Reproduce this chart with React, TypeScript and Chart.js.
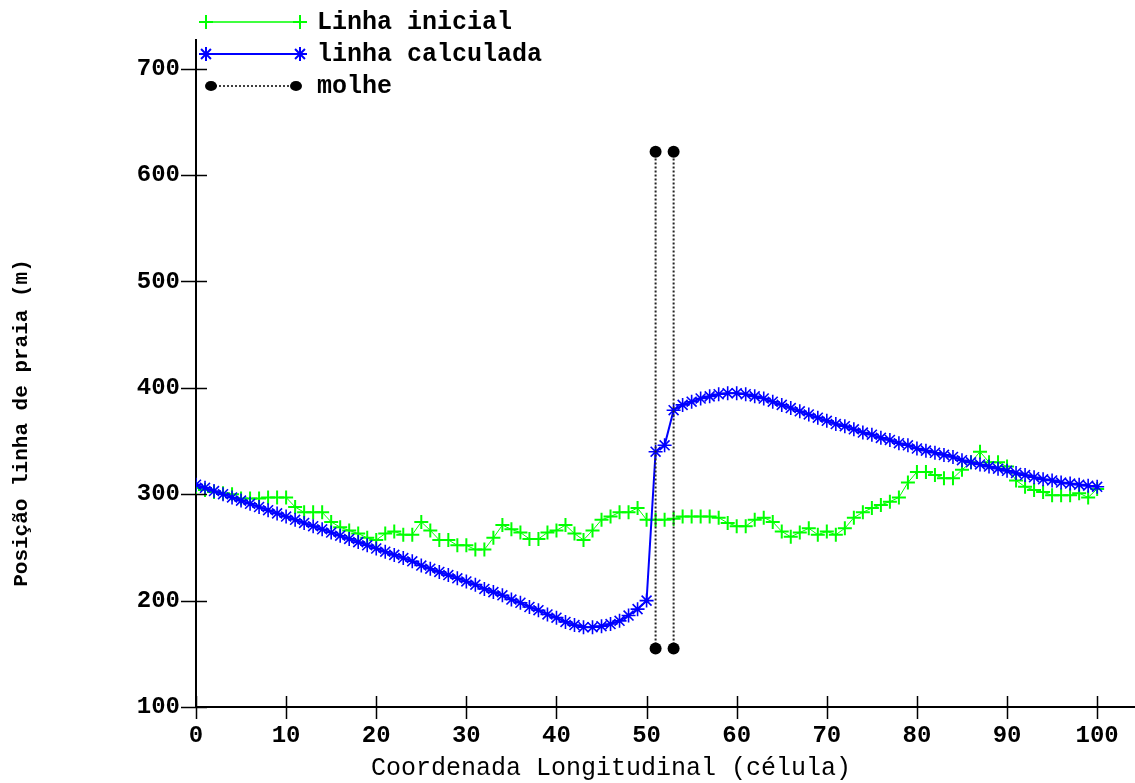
import React, { useEffect, useRef } from "react";
import { Chart, registerables } from "chart.js";

Chart.register(...registerables);

// cell index = array position (0..100)
const initialLine = [
  306, 304, 302, 301, 300, 296, 296, 296, 297, 297,
  297, 288, 283, 283, 283, 274, 269, 266, 263, 259,
  257, 263, 265, 262, 262, 274, 266, 257, 257, 252,
  252, 248, 248, 259, 271, 267, 264, 258, 258, 264,
  266, 271, 263, 257, 266, 276, 279, 283, 283, 287,
  276, 276, 276, 277, 279, 279, 279, 279, 278, 273,
  270, 270, 276, 278, 274, 265, 260, 264, 268, 262,
  265, 262, 268, 278, 283, 287, 290, 293, 297, 311,
  321, 321, 318, 315, 315, 323, 330, 340, 330, 330,
  326, 313, 307, 304, 302, 299, 299, 299, 301, 297,
  305,
];

const calculatedLine = [
  309, 306, 303, 300, 297, 294, 291, 288, 285, 282,
  279, 276, 273, 270, 267, 264, 261, 258, 255, 252,
  249, 246, 243, 240, 237, 233, 230, 227, 224, 221,
  218, 215, 211, 208, 205, 201, 198, 194, 191, 187,
  184, 180, 177, 175, 175, 176, 178, 181, 186, 192,
  200, 340, 346, 379, 384, 387, 390, 392, 394, 395,
  395, 394, 392, 390, 387, 384, 381, 378, 375, 372,
  369, 366, 364, 361, 358, 356, 353, 351, 348, 346,
  343, 341, 339, 337, 335, 332, 330, 328, 326, 324,
  322, 320, 318, 316, 314, 313, 311, 310, 309, 308,
  307,
];

const molheX = [51, 51, 52, 53, 53];
const molheY: (number | null)[] = [155, 622, null, 155, 622];

const xTickValues = [0, 10, 20, 30, 40, 50, 60, 70, 80, 90, 100];
const yTickValues = [100, 200, 300, 400, 500, 600, 700];

const labels = ["Linha inicial", "linha calculada", "molhe"];
const xTitle = "Coordenada Longitudinal (célula)";
const yTitle = "Posição linha de praia (m)";

const GREEN = "#00ff00";
const BLUE = "#0000ff";
const BLACK = "#000000";
const MONO = "'Liberation Mono', 'DejaVu Sans Mono', monospace";

function drawMarker(ctx: CanvasRenderingContext2D, kind: string, x: number, y: number, r: number, color: string) {
  ctx.save();
  ctx.strokeStyle = color;
  ctx.fillStyle = color;
  ctx.lineWidth = 2;
  ctx.beginPath();
  if (kind === "cross") {
    ctx.moveTo(x - r, y); ctx.lineTo(x + r, y);
    ctx.moveTo(x, y - r); ctx.lineTo(x, y + r);
    ctx.stroke();
  } else if (kind === "star") {
    ctx.moveTo(x - r, y); ctx.lineTo(x + r, y);
    ctx.moveTo(x, y - r); ctx.lineTo(x, y + r);
    const d = r * 0.707;
    ctx.moveTo(x - d, y - d); ctx.lineTo(x + d, y + d);
    ctx.moveTo(x - d, y + d); ctx.lineTo(x + d, y - d);
    ctx.stroke();
  } else {
    ctx.ellipse(x, y, r, r * 0.85, 0, 0, Math.PI * 2);
    ctx.fill();
  }
  ctx.restore();
}

const decorPlugin = {
  id: "decor",
  afterDraw(chart: any) {
    const ctx: CanvasRenderingContext2D = chart.ctx;
    const xs = chart.scales.x;
    const ys = chart.scales.y;
    const x0 = xs.getPixelForValue(0);
    const y0 = ys.getPixelForValue(100);
    ctx.save();
    // extend the x axis line to the right edge
    ctx.strokeStyle = BLACK;
    ctx.lineWidth = 2;
    ctx.beginPath();
    ctx.moveTo(chart.chartArea.right - 1, y0);
    ctx.lineTo(chart.width, y0);
    ctx.stroke();

    ctx.lineWidth = 1.5;
    ctx.beginPath();
    yTickValues.forEach((v) => {
      const py = Math.round(ys.getPixelForValue(v)) + 0.5;
      ctx.moveTo(x0 - 15, py);
      ctx.lineTo(x0 + 11, py);
    });
    xTickValues.forEach((v) => {
      const px = Math.round(xs.getPixelForValue(v)) + 0.5;
      ctx.moveTo(px, y0 - 11);
      ctx.lineTo(px, y0 + 12);
    });
    ctx.stroke();

    // axis titles
    ctx.fillStyle = BLACK;
    ctx.textAlign = "center";
    ctx.textBaseline = "middle";
    ctx.font = `25px ${MONO}`;
    ctx.fillText(xTitle, 611, 768);
    ctx.save();
    ctx.translate(22, 423);
    ctx.rotate(-Math.PI / 2);
    ctx.font = `bold 21px ${MONO}`;
    ctx.fillText(yTitle, 0, 0);
    ctx.restore();

    // legend
    const rows = [
      { y: 22, color: GREEN, kind: "cross", dash: [] as number[], lw: 1.5 },
      { y: 54, color: BLUE, kind: "star", dash: [] as number[], lw: 2 },
      { y: 86, color: BLACK, kind: "dot", dash: [2, 2], lw: 1.5 },
    ];
    rows.forEach((r, i) => {
      const xa = r.kind === "dot" ? 211 : 206;
      const xb = r.kind === "dot" ? 296 : 300;
      ctx.save();
      ctx.strokeStyle = r.color;
      ctx.lineWidth = r.lw;
      ctx.setLineDash(r.dash);
      ctx.beginPath();
      ctx.moveTo(xa, r.y);
      ctx.lineTo(xb, r.y);
      ctx.stroke();
      ctx.restore();
      drawMarker(ctx, r.kind, xa, r.y, r.kind === "dot" ? 6 : 7, r.color);
      drawMarker(ctx, r.kind, xb, r.y, r.kind === "dot" ? 6 : 7, r.color);
      ctx.fillStyle = BLACK;
      ctx.textAlign = "left";
      ctx.textBaseline = "middle";
      ctx.font = `bold 25px ${MONO}`;
      ctx.fillText(labels[i], 317, r.y + 1);
    });
    ctx.restore();
  },
};

export default function App() {
  const canvasRef = useRef<HTMLCanvasElement | null>(null);

  useEffect(() => {
    document.body.style.margin = "0";
    document.body.style.background = "#ffffff";
    const canvas = canvasRef.current;
    if (!canvas) return;
    const chart = new Chart(canvas, {
      type: "line",
      data: {
        datasets: [
          {
            label: labels[0],
            data: initialLine.map((v, i) => ({ x: i, y: v })),
            borderColor: GREEN,
            backgroundColor: GREEN,
            borderWidth: 1,
            pointStyle: "cross",
            pointRadius: 7,
            pointBorderWidth: 2,
            pointBorderColor: GREEN,
            tension: 0,
            order: 3,
          },
          {
            label: labels[1],
            data: calculatedLine.map((v, i) => ({ x: i, y: v })),
            borderColor: BLUE,
            backgroundColor: BLUE,
            borderWidth: 2,
            pointStyle: "star",
            pointRadius: 7,
            pointBorderWidth: 1.6,
            pointBorderColor: BLUE,
            tension: 0,
            order: 2,
          },
          {
            label: labels[2],
            data: molheX.map((x, i) => ({ x, y: molheY[i] })),
            borderColor: "#222222",
            backgroundColor: BLACK,
            borderWidth: 2,
            borderDash: [2, 2],
            pointStyle: "circle",
            pointRadius: molheY.map((v) => (v === null ? 0 : 6)),
            pointBorderWidth: 0,
            spanGaps: false,
            tension: 0,
            order: 1,
          },
        ],
      },
      options: {
        animation: false,
        responsive: true,
        maintainAspectRatio: false,
        layout: { padding: { top: 40, right: 0, left: 0, bottom: 0 } },
        plugins: {
          legend: { display: false },
          tooltip: { enabled: false },
          title: { display: false },
        },
        scales: {
          x: {
            type: "linear",
            min: 0,
            max: 103.2,
            afterBuildTicks: (scale: any) => {
              scale.ticks = xTickValues.map((v) => ({ value: v }));
            },
            afterFit: (scale: any) => {
              scale.height = 76;
            },
            grid: { display: false, drawTicks: false },
            border: { display: true, color: BLACK, width: 2 },
            ticks: {
              color: BLACK,
              padding: 15,
              maxRotation: 0,
              autoSkip: false,
              font: { family: MONO, size: 24, weight: "bold" },
              callback: (v: any) => String(v),
            },
          },
          y: {
            type: "linear",
            min: 100,
            max: 727,
            afterBuildTicks: (scale: any) => {
              scale.ticks = yTickValues.map((v) => ({ value: v }));
            },
            afterFit: (scale: any) => {
              scale.width = 196;
            },
            grid: { display: false, drawTicks: false },
            border: { display: true, color: BLACK, width: 2 },
            ticks: {
              color: BLACK,
              padding: 16,
              autoSkip: false,
              font: { family: MONO, size: 24, weight: "bold" },
              callback: (v: any) => String(v),
            },
          },
        },
      },
      plugins: [decorPlugin],
    });
    return () => chart.destroy();
  }, []);

  return (
    <div style={{ width: "1135px", height: "783px", position: "relative" }}>
      <canvas ref={canvasRef} />
    </div>
  );
}
